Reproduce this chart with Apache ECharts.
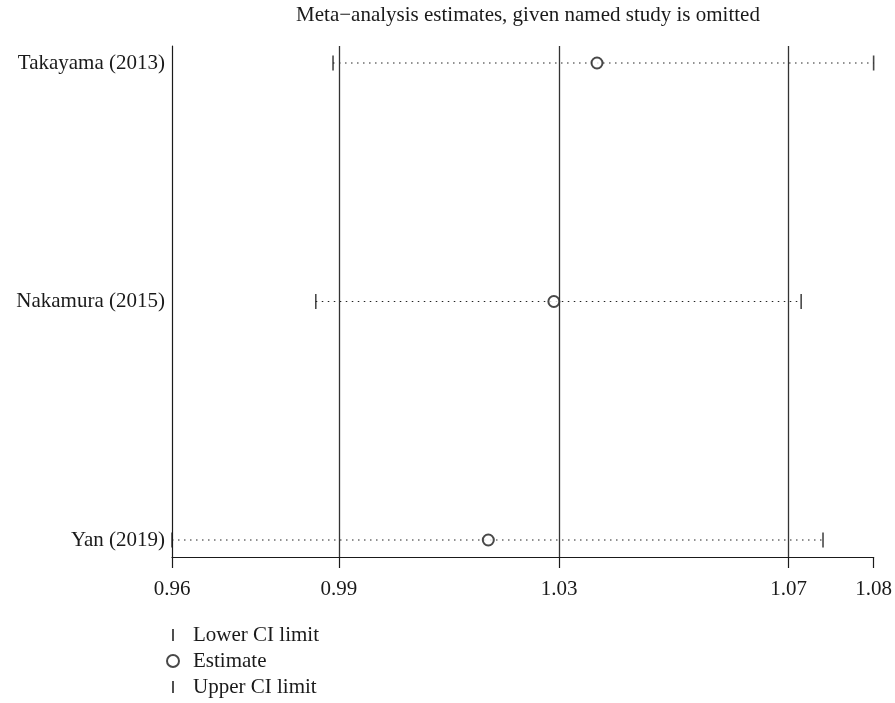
<!DOCTYPE html>
<html>
<head>
<meta charset="utf-8">
<script src="https://cdn.jsdelivr.net/npm/echarts@6/dist/echarts.min.js"></script>
<style>
  html, body { margin: 0; padding: 0; background: #fff; }
  #main { width: 895px; height: 703px; }
</style>
</head>
<body>
<div id="main"></div>
<script>
// studies listed bottom to top (y = 0, 1, 2)
var studies = ['Yan (2019)', 'Nakamura (2015)', 'Takayama (2013)']
var lowerCI = [0.9580, 0.9830, 0.9860]
var estimate = [1.0130, 1.0244, 1.0319]
var upperCI = [1.0712, 1.0674, 1.0800]
// overall pooled estimate: lower CI, estimate, upper CI
var overall = [0.9870, 1.0253, 1.0652]

var axisMin = Math.min.apply(null, lowerCI)
var axisMax = Math.max.apply(null, upperCI)
var xTicks = [axisMin].concat(overall, [axisMax])

var font = 'Liberation Serif'
var ink = '#1a1a1a'
var barPath = 'path://M0,0H1.6V10H0Z'

var ciSeries = studies.map(function (name, i) {
  return {
    type: 'line',
    name: 'ci' + i,
    silent: true,
    symbol: 'none',
    lineStyle: { color: '#222', width: 1.2, type: [1.5, 4.5] },
    data: [[lowerCI[i], i], [upperCI[i], i]],
    z: 1
  }
})

var option = {
  animation: false,
  backgroundColor: '#fff',
  title: {
    text: 'Meta\u2212analysis estimates, given named study is omitted',
    left: 523,
    textAlign: 'center',
    top: 0,
    textStyle: { fontFamily: font, fontSize: 21, fontWeight: 'normal', color: ink }
  },
  legend: {
    orient: 'vertical',
    left: 166,
    top: 624,
    padding: 0,
    itemWidth: 12,
    itemHeight: 12,
    itemGap: 4,
    selectedMode: false,
    textStyle: { fontFamily: font, fontSize: 21, color: ink, lineHeight: 22, padding: [0, 0, 0, 9] },
    data: [
      { name: 'Lower CI limit', icon: barPath },
      { name: 'Estimate', icon: 'emptyCircle' },
      { name: 'Upper CI limit', icon: barPath }
    ]
  },
  grid: { left: 172, right: 21, top: 46, bottom: 146 },
  xAxis: {
    type: 'value',
    min: axisMin,
    max: axisMax,
    axisLine: { onZero: false, lineStyle: { color: ink, width: 1.2 } },
    axisTick: { customValues: xTicks, length: 11, lineStyle: { color: ink, width: 1.2 } },
    axisLabel: {
      customValues: xTicks,
      margin: 22,
      fontFamily: font,
      fontSize: 21,
      color: ink,
      formatter: function (v) { return v.toFixed(2) }
    },
    splitLine: { show: false }
  },
  yAxis: {
    type: 'value',
    min: -0.0713,
    max: 2.0713,
    axisLine: { show: true, onZero: false, lineStyle: { color: ink, width: 1.2 } },
    axisTick: { show: false },
    axisLabel: {
      customValues: [0, 1, 2],
      margin: 7,
      fontFamily: font,
      fontSize: 21,
      color: ink,
      formatter: function (v) { return studies[Math.round(v)] }
    },
    splitLine: { show: false }
  },
  series: ciSeries.concat([
    {
      type: 'scatter',
      name: 'Lower CI limit',
      symbol: barPath,
      symbolSize: [1.6, 15],
      itemStyle: { color: ink },
      data: lowerCI.map(function (v, i) { return [v, i] }),
      z: 3
    },
    {
      type: 'scatter',
      name: 'Estimate',
      symbol: 'emptyCircle',
      symbolSize: 11,
      itemStyle: { color: ink, borderWidth: 1.3 },
      data: estimate.map(function (v, i) { return [v, i] }),
      markLine: {
        silent: true,
        symbol: 'none',
        precision: 6,
        label: { show: false },
        lineStyle: { color: '#333', type: 'solid', width: 1.3 },
        data: overall.map(function (v) { return { xAxis: v } })
      },
      z: 4
    },
    {
      type: 'scatter',
      name: 'Upper CI limit',
      symbol: barPath,
      symbolSize: [1.6, 15],
      itemStyle: { color: ink },
      data: upperCI.map(function (v, i) { return [v, i] }),
      z: 3
    }
  ])
}

var chart = echarts.init(document.getElementById('main'), null, { renderer: 'canvas' })
chart.setOption(option)
</script>
</body>
</html>
